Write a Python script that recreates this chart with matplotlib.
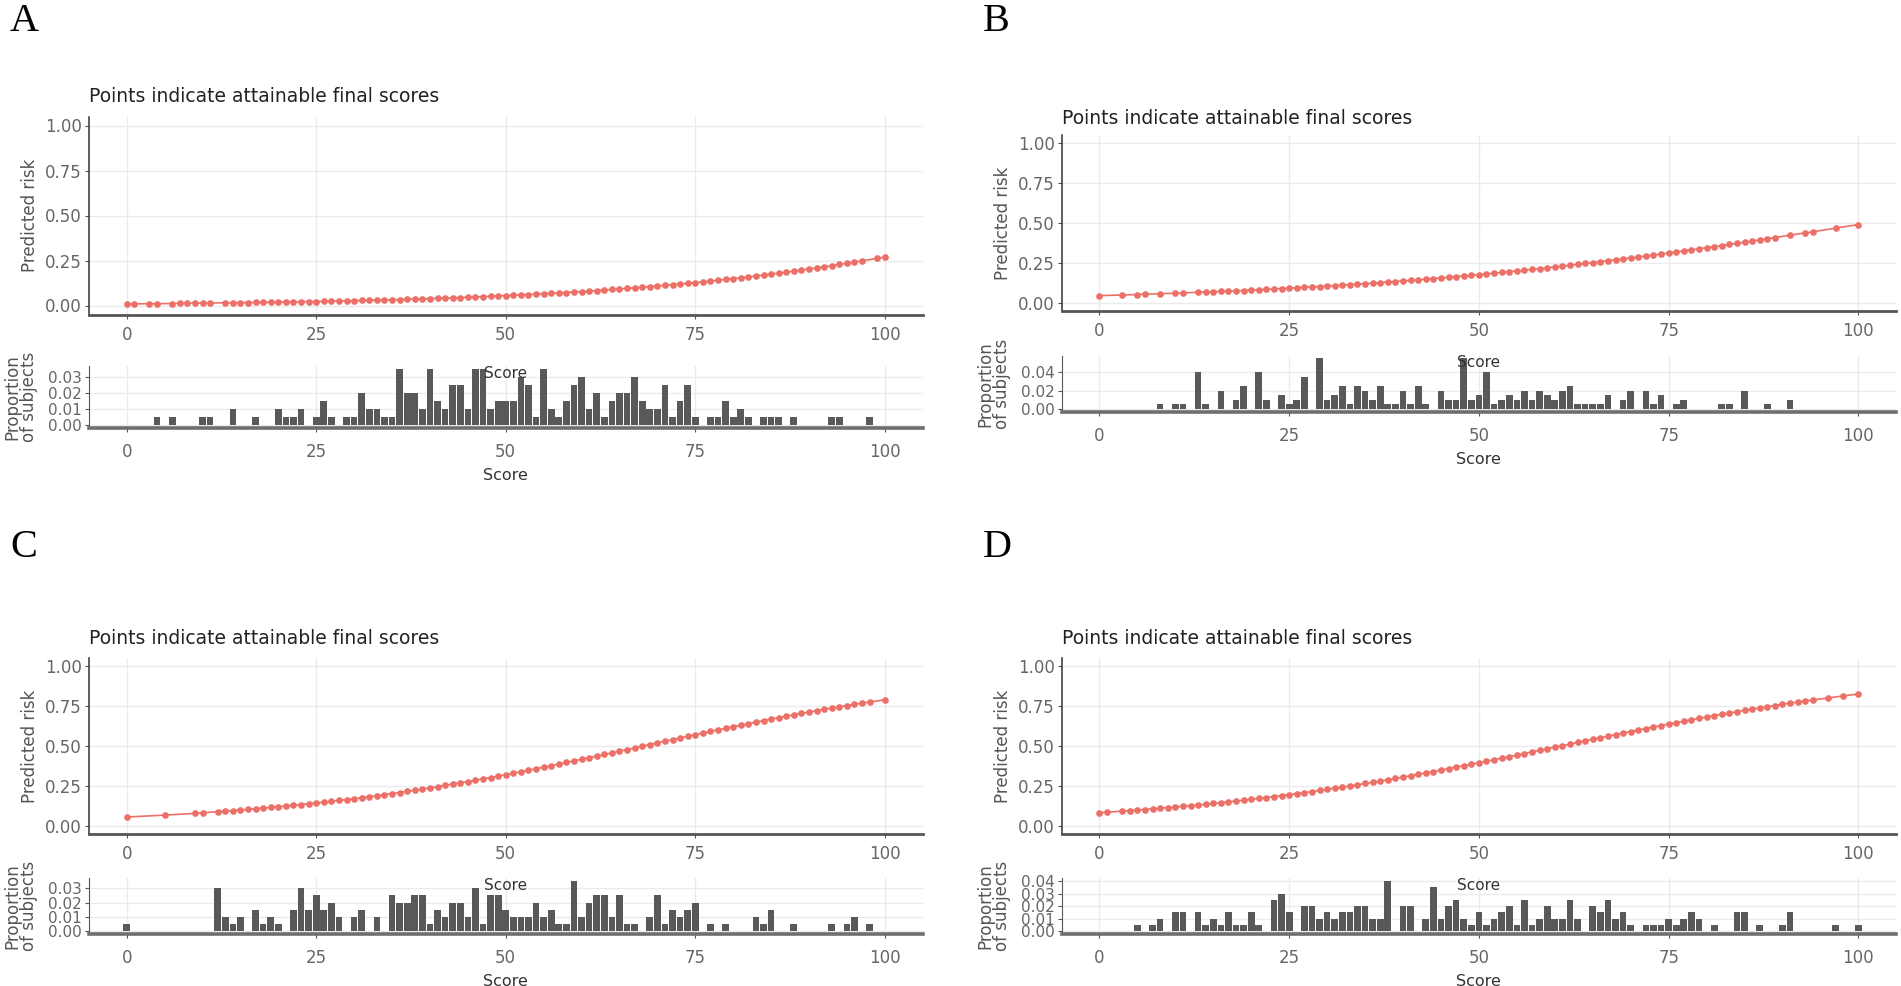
import matplotlib
matplotlib.use("Agg")
import matplotlib.pyplot as plt

# ----------------------------------------------------------------------
# data: predicted risk at attainable scores + distribution of subjects
# ----------------------------------------------------------------------
scores_a = [0, 1, 3, 4, 6, 7, 8, 9, 10, 11,
            13, 14, 15, 16, 17, 18, 19, 20, 21, 22,
            23, 24, 25, 26, 27, 28, 29, 30, 31, 32,
            33, 34, 35, 36, 37, 38, 39, 40, 41, 42,
            43, 44, 45, 46, 47, 48, 49, 50, 51, 52,
            53, 54, 55, 56, 57, 58, 59, 60, 61, 62,
            63, 64, 65, 66, 67, 68, 69, 70, 71, 72,
            73, 74, 75, 76, 77, 78, 79, 80, 81, 82,
            83, 84, 85, 86, 87, 88, 89, 90, 91, 92,
            93, 94, 95, 96, 97, 99, 100]
risk_a = [.009, .009, .010, .010, .011, .012, .012, .013, .013, .014,
          .015, .015, .016, .016, .017, .017, .018, .019, .019, .020,
          .021, .022, .022, .023, .024, .025, .026, .027, .028, .029,
          .030, .031, .032, .033, .035, .036, .037, .038, .040, .041,
          .043, .044, .046, .048, .049, .051, .053, .055, .057, .059,
          .061, .063, .065, .067, .070, .072, .075, .077, .080, .083,
          .086, .089, .092, .095, .098, .101, .105, .108, .112, .116,
          .119, .123, .127, .131, .136, .140, .145, .149, .154, .159,
          .164, .169, .174, .180, .185, .191, .197, .203, .209, .215,
          .221, .228, .234, .241, .248, .262, .269]

scores_b = [0, 3, 5, 6, 8, 10, 11, 13, 14, 15,
            16, 17, 18, 19, 20, 21, 22, 23, 24, 25,
            26, 27, 28, 29, 30, 31, 32, 33, 34, 35,
            36, 37, 38, 39, 40, 41, 42, 43, 44, 45,
            46, 47, 48, 49, 50, 51, 52, 53, 54, 55,
            56, 57, 58, 59, 60, 61, 62, 63, 64, 65,
            66, 67, 68, 69, 70, 71, 72, 73, 74, 75,
            76, 77, 78, 79, 80, 81, 82, 83, 84, 85,
            86, 87, 88, 89, 91, 93, 94, 97, 100]
risk_b = [.046, .050, .053, .055, .058, .061, .063, .067, .069, .070,
          .072, .074, .076, .078, .081, .083, .085, .088, .090, .093,
          .095, .098, .100, .103, .106, .109, .112, .115, .118, .121,
          .124, .127, .131, .134, .138, .141, .145, .149, .152, .157,
          .161, .165, .169, .173, .177, .182, .186, .191, .196, .200,
          .205, .210, .215, .220, .225, .230, .236, .241, .247, .252,
          .258, .264, .270, .276, .282, .288, .294, .300, .306, .313,
          .319, .326, .332, .339, .346, .353, .359, .366, .373, .380,
          .387, .395, .402, .409, .424, .438, .445, .468, .490]

scores_c = [0, 5, 9, 10, 12, 13, 14, 15, 16, 17,
            18, 19, 20, 21, 22, 23, 24, 25, 26, 27,
            28, 29, 30, 31, 32, 33, 34, 35, 36, 37,
            38, 39, 40, 41, 42, 43, 44, 45, 46, 47,
            48, 49, 50, 51, 52, 53, 54, 55, 56, 57,
            58, 59, 60, 61, 62, 63, 64, 65, 66, 67,
            68, 69, 70, 71, 72, 73, 74, 75, 76, 77,
            78, 79, 80, 81, 82, 83, 84, 85, 86, 87,
            88, 89, 90, 91, 92, 93, 94, 95, 96, 97,
            98, 100]
risk_c = [.056, .068, .079, .083, .089, .093, .096, .100, .104, .108,
          .112, .116, .120, .125, .129, .134, .139, .144, .149, .154,
          .160, .165, .171, .177, .183, .189, .196, .203, .209, .216,
          .223, .231, .238, .246, .254, .262, .270, .278, .286, .295,
          .303, .312, .321, .330, .339, .349, .358, .368, .377, .387,
          .397, .407, .417, .427, .437, .447, .457, .468, .478, .488,
          .499, .509, .520, .530, .540, .550, .561, .571, .581, .591,
          .601, .611, .621, .630, .640, .649, .659, .668, .677, .686,
          .695, .704, .712, .720, .729, .737, .745, .753, .760, .768,
          .775, .789]

scores_d = [0, 1, 3, 4, 5, 6, 7, 8, 9, 10,
            11, 12, 13, 14, 15, 16, 17, 18, 19, 20,
            21, 22, 23, 24, 25, 26, 27, 28, 29, 30,
            31, 32, 33, 34, 35, 36, 37, 38, 39, 40,
            41, 42, 43, 44, 45, 46, 47, 48, 49, 50,
            51, 52, 53, 54, 55, 56, 57, 58, 59, 60,
            61, 62, 63, 64, 65, 66, 67, 68, 69, 70,
            71, 72, 73, 74, 75, 76, 77, 78, 79, 80,
            81, 82, 83, 84, 85, 86, 87, 88, 89, 90,
            91, 92, 93, 94, 96, 98, 100]
risk_d = [.083, .086, .093, .096, .100, .103, .107, .111, .115, .119,
          .123, .127, .131, .136, .141, .146, .151, .156, .161, .167,
          .172, .178, .184, .190, .196, .202, .209, .215, .222, .229,
          .236, .243, .250, .258, .266, .273, .281, .289, .297, .306,
          .314, .323, .331, .340, .349, .358, .368, .377, .386, .395,
          .405, .415, .424, .434, .443, .453, .463, .473, .483, .493,
          .502, .512, .522, .532, .542, .552, .561, .571, .581, .590,
          .600, .609, .619, .628, .637, .646, .655, .664, .673, .681,
          .690, .698, .706, .715, .723, .730, .738, .746, .753, .761,
          .768, .774, .781, .788, .800, .813, .825]

hist_x_a = [4, 6, 10, 11, 14, 17, 20, 21, 22, 23,
            25, 26, 27, 29, 30, 31, 32, 33, 34, 35,
            36, 37, 38, 39, 40, 41, 42, 43, 44, 45,
            46, 47, 48, 49, 50, 51, 52, 53, 54, 55,
            56, 57, 58, 59, 60, 61, 62, 63, 64, 65,
            66, 67, 68, 69, 70, 71, 72, 73, 74, 75,
            77, 78, 79, 80, 81, 82, 84, 85, 86, 88,
            93, 94, 98]
hist_p_a = [.005, .005, .005, .005, .010, .005, .010, .005, .005, .010,
            .005, .015, .005, .005, .005, .020, .010, .010, .005, .005,
            .035, .020, .020, .010, .035, .015, .010, .025, .025, .010,
            .035, .035, .010, .015, .015, .015, .030, .025, .005, .035,
            .010, .005, .015, .025, .030, .010, .020, .005, .015, .020,
            .020, .030, .015, .010, .010, .025, .005, .015, .025, .005,
            .005, .005, .015, .005, .010, .005, .005, .005, .005, .005,
            .005, .005, .005]

hist_x_b = [8, 10, 11, 13, 14, 16, 18, 19, 21, 22,
            24, 25, 26, 27, 29, 30, 31, 32, 33, 34,
            35, 36, 37, 38, 39, 40, 41, 42, 43, 45,
            46, 47, 48, 49, 50, 51, 52, 53, 54, 55,
            56, 57, 58, 59, 60, 61, 62, 63, 64, 65,
            66, 67, 69, 70, 72, 73, 74, 76, 77, 82,
            83, 85, 88, 91]
hist_p_b = [.005, .005, .005, .040, .005, .020, .010, .025, .040, .010,
            .015, .005, .010, .035, .055, .010, .015, .025, .005, .025,
            .020, .010, .025, .005, .005, .020, .005, .025, .005, .020,
            .010, .010, .055, .010, .015, .040, .005, .010, .015, .010,
            .020, .010, .020, .015, .010, .020, .025, .005, .005, .005,
            .005, .015, .010, .020, .020, .005, .015, .005, .010, .005,
            .005, .020, .005, .010]

hist_x_c = [0, 12, 13, 14, 15, 17, 18, 19, 20, 22,
            23, 24, 25, 26, 27, 28, 30, 31, 33, 35,
            36, 37, 38, 39, 40, 41, 42, 43, 44, 45,
            46, 47, 48, 49, 50, 51, 52, 53, 54, 55,
            56, 57, 58, 59, 60, 61, 62, 63, 64, 65,
            66, 67, 69, 70, 71, 72, 73, 74, 75, 77,
            79, 83, 84, 85, 88, 93, 95, 96, 98]
hist_p_c = [.005, .030, .010, .005, .010, .015, .005, .010, .005, .015,
            .030, .015, .025, .015, .020, .010, .010, .015, .010, .025,
            .020, .020, .025, .025, .005, .015, .010, .020, .020, .010,
            .030, .005, .025, .025, .015, .010, .010, .010, .020, .010,
            .015, .005, .005, .035, .010, .020, .025, .025, .010, .025,
            .005, .005, .010, .025, .005, .015, .010, .015, .020, .005,
            .005, .010, .005, .015, .005, .005, .005, .010, .005]

hist_x_d = [5, 7, 8, 10, 11, 13, 14, 15, 16, 17,
            18, 19, 20, 21, 23, 24, 25, 27, 28, 29,
            30, 31, 32, 33, 34, 35, 36, 37, 38, 40,
            41, 43, 44, 45, 46, 47, 48, 49, 50, 51,
            52, 53, 54, 55, 56, 57, 58, 59, 60, 61,
            62, 63, 65, 66, 67, 68, 69, 70, 72, 73,
            74, 75, 76, 77, 78, 79, 81, 84, 85, 87,
            90, 91, 97, 100]
hist_p_d = [.005, .005, .010, .015, .015, .015, .005, .010, .005, .015,
            .005, .005, .015, .005, .025, .030, .015, .020, .020, .010,
            .015, .010, .015, .015, .020, .020, .010, .010, .040, .020,
            .020, .010, .035, .010, .020, .025, .010, .005, .015, .005,
            .010, .015, .020, .005, .025, .005, .010, .020, .010, .010,
            .025, .010, .020, .015, .025, .010, .015, .005, .005, .005,
            .005, .010, .005, .010, .015, .010, .005, .015, .015, .005,
            .005, .015, .005, .005]

x_ticks = [0, 25, 50, 75, 100]
risk_ticks = [0.0, 0.25, 0.5, 0.75, 1.0]
prop_ticks_a = [0.0, 0.01, 0.02, 0.03]
prop_ticks_b = [0.0, 0.02, 0.04]
prop_ticks_c = [0.0, 0.01, 0.02, 0.03]
prop_ticks_d = [0.0, 0.01, 0.02, 0.03, 0.04]

TITLE = "Points indicate attainable final scores"

# ----------------------------------------------------------------------
# style
# ----------------------------------------------------------------------
W, H = 1901, 986
C_RED = "#EC6F68"
C_BAR = "#595959"
C_GRID = "#EBEBEB"
C_TICK = "#666666"
C_TEXT = "#222222"

plt.rcParams["font.family"] = "DejaVu Sans"

fig = plt.figure(figsize=(W / 100, H / 100), dpi=100)


def px_axes(x0, y0, x1, y1):
    """axes from pixel box (top-left origin)"""
    return fig.add_axes([x0 / W, 1 - y1 / H, (x1 - x0) / W, (y1 - y0) / H])


def style_common(ax):
    ax.set_xlim(-5, 105)
    ax.set_xticks(x_ticks)
    ax.grid(True, color=C_GRID, lw=1.0)
    ax.set_axisbelow(True)
    ax.spines["top"].set_visible(False)
    ax.spines["right"].set_visible(False)


def draw_panel(letter, x0, x1, top_box, hist_box, title_y, letter_xy,
               scores, risk, hx, hp, pticks):
    # --- top: predicted risk curve
    ax = px_axes(x0, top_box[0], x1, top_box[1])
    style_common(ax)
    ax.plot(scores, risk, "-o", color=C_RED, lw=1.2, ms=4.8, mew=0, zorder=3)
    ax.set_ylim(-0.05, 1.05)
    ax.set_yticks(risk_ticks)
    ax.set_yticklabels(["0.00", "0.25", "0.50", "0.75", "1.00"])
    ax.tick_params(length=3, color="#555555", labelcolor=C_TICK,
                   labelsize=12, pad=2)
    ax.tick_params(axis="x", pad=5)
    ax.spines["left"].set_color("#333333")
    ax.spines["left"].set_linewidth(1.1)
    ax.spines["bottom"].set_color("#555555")
    ax.spines["bottom"].set_linewidth(2.0)
    fig.text((x0 - 59) / W, 1 - (top_box[0] + top_box[1]) / 2 / H,
             "Predicted risk", rotation=90, ha="center", va="center",
             fontsize=12, color="#555555")
    fig.text((x0 + 0.5) / W, 1 - title_y / H, TITLE, ha="left",
             va="center", fontsize=13.5, color=C_TEXT)
    fig.text(letter_xy[0] / W, 1 - letter_xy[1] / H, letter, ha="left",
             va="top", fontsize=29, family="Liberation Serif", color="black")

    # --- bottom: proportion of subjects
    hx_ax = px_axes(x0, hist_box[0], x1, hist_box[1])
    style_common(hx_ax)
    m = max(hp)
    hx_ax.bar(hx, hp, width=0.88, color=C_BAR, lw=0, zorder=3)
    hx_ax.set_ylim(-0.05 * m, 1.05 * m)
    hx_ax.set_yticks(pticks)
    hx_ax.set_yticklabels([f"{t:.2f}" for t in pticks])
    hx_ax.tick_params(length=3, color="#555555", labelcolor=C_TICK, pad=2)
    hx_ax.tick_params(axis="y", labelsize=11)
    hx_ax.tick_params(axis="x", labelsize=12, pad=8)
    hx_ax.spines["left"].set_color("#555555")
    hx_ax.spines["left"].set_linewidth(0.8)
    hx_ax.spines["bottom"].set_color("#6e6e6e")
    hx_ax.spines["bottom"].set_linewidth(2.6)
    fig.text((x0 - 68) / W, 1 - (hist_box[0] + hist_box[1]) / 2 / H,
             "Proportion\nof subjects", rotation=90, ha="center",
             va="center", fontsize=12, color="#555555", linespacing=0.9,
             multialignment="center")
    xc = x0 + (x1 - x0) * 55 / 110
    # x label of the curve, which ends up drawn over the bars
    fig.text(xc / W, 1 - (hist_box[0] + 7) / H, "Score", ha="center",
             va="center", fontsize=11, color="#333333")
    fig.text(xc / W, 1 - (hist_box[1] + 48) / H, "Score", ha="center",
             va="center", fontsize=11.5, color="#333333")


XA = (88.8, 922.7)
XB = (1061.5, 1896.3)

draw_panel("A", *XA, (116.5, 314.5), (366.2, 427.8), 97, (10, 3),
           scores_a, risk_a, hist_x_a, hist_p_a, prop_ticks_a)
draw_panel("B", *XB, (135, 311), (355.9, 411.5), 118, (983, 3),
           scores_b, risk_b, hist_x_b, hist_p_b, prop_ticks_b)
draw_panel("C", *XA, (658, 834), (878.4, 933.8), 638, (10, 529),
           scores_c, risk_c, hist_x_c, hist_p_c, prop_ticks_c)
draw_panel("D", *XB, (658, 834), (878.4, 933.8), 638, (983, 529),
           scores_d, risk_d, hist_x_d, hist_p_d, prop_ticks_d)

fig.savefig("out.png", dpi=100)
